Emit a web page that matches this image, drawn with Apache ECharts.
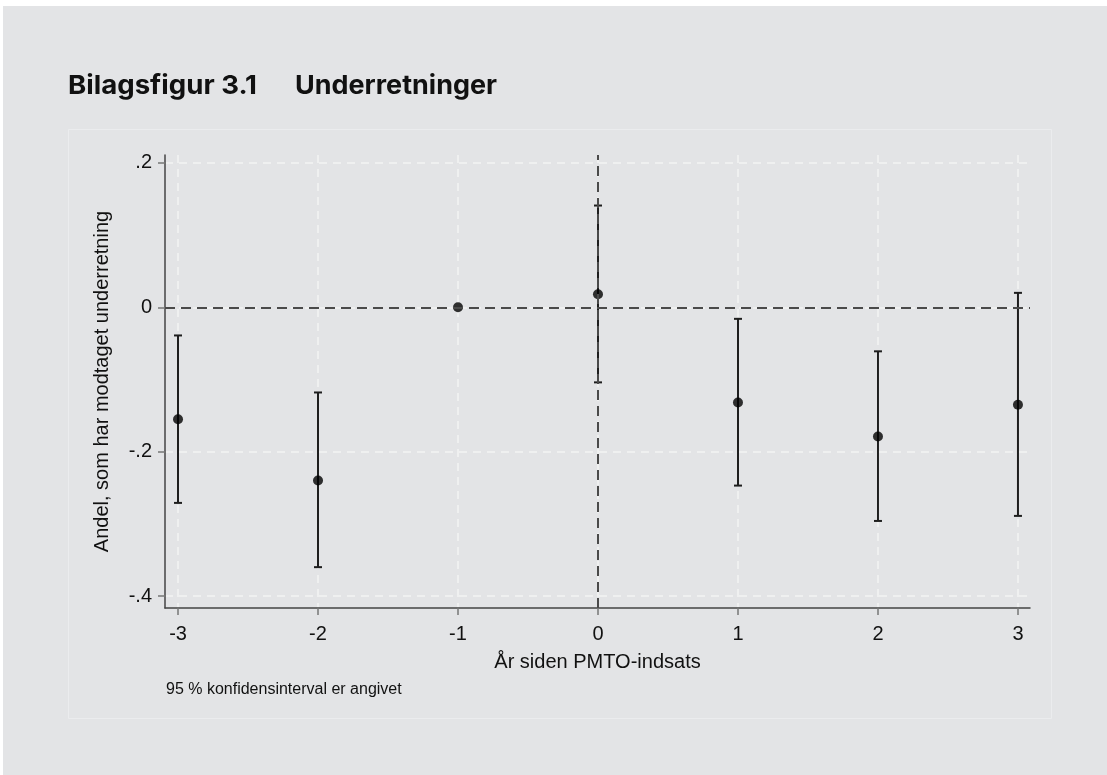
<!DOCTYPE html>
<html>
<head>
<meta charset="utf-8">
<script src="https://cdn.jsdelivr.net/npm/echarts@6/dist/echarts.min.js"></script>
<style>
  html, body { margin: 0; padding: 0; background: #ffffff; }
  #chart { width: 1107px; height: 775px; }
</style>
</head>
<body>
<div id="chart"></div>
<script>
// Years relative to the PMTO intervention
const years = [-3, -2, -1, 0, 1, 2, 3];
// Estimated share with a notification (point estimates)
const estimates = [-0.155, -0.240, 0.000, 0.018, -0.132, -0.179, -0.135];
// 95 % confidence bounds (null where no interval is reported)
const ciLow  = [-0.271, -0.360, null, -0.104, -0.247, -0.296, -0.289];
const ciHigh = [-0.039, -0.118, null,  0.141, -0.016, -0.061,  0.020];
// Axis ticks and labels
const xTicks = [-3, -2, -1, 0, 1, 2, 3];
const yTicks = [-0.4, -0.2, 0, 0.2];
const yTickLabels = ['-.4', '-.2', '0', '.2'];

const pointData = years.map((x, i) => [x, estimates[i]]);
const ciData = years
  .map((x, i) => [x, ciLow[i], ciHigh[i]])
  .filter(d => d[1] !== null && d[2] !== null);

const axisFont = 'Liberation Sans, Arial, sans-serif';
const titleFont = 'bold 26px Inter, Roboto, sans-serif';
const gridLine = { show: true, lineStyle: { color: '#f3f3f4', width: 1.5, type: [8, 6] } };

// Heading parts are fitted to their set widths
const measureCtx = document.createElement('canvas').getContext('2d');
function widthScale(text, font, target) {
  measureCtx.font = font;
  return target / measureCtx.measureText(text).width;
}
const headA = 'Bilagsfigur 3.1';
const headB = 'Underretninger';

const chart = echarts.init(document.getElementById('chart'), null, { renderer: 'canvas' });

function render() {
  chart.setOption({
    backgroundColor: '#e3e4e6',
    animation: false,
    graphic: [
      { type: 'rect', shape: { x: 0, y: 0, width: 1107, height: 6 }, style: { fill: '#ffffff' }, z: -10 },
      { type: 'rect', shape: { x: 0, y: 0, width: 3, height: 775 }, style: { fill: '#ffffff' }, z: -10 },
      { type: 'rect', shape: { x: 68.5, y: 129.5, width: 983, height: 589 },
        style: { fill: 'transparent', stroke: '#ebecee', lineWidth: 1 }, z: -9 },
      { type: 'text', x: 68, y: 73, scaleX: widthScale(headA, titleFont, 189),
        style: { text: headA, font: titleFont, fill: '#111111' } },
      { type: 'text', x: 295, y: 73, scaleX: widthScale(headB, titleFont, 202),
        style: { text: headB, font: titleFont, fill: '#111111' } },
      { type: 'text', left: 166, top: 682,
        style: { text: '95 % konfidensinterval er angivet', font: '16px ' + axisFont, fill: '#111111' } }
    ],
    grid: { left: 165, right: 77, top: 155, bottom: 167, containLabel: false },
    xAxis: {
      type: 'value',
      min: -3.093,
      max: 3.086,
      name: 'År siden PMTO-indsats',
      nameLocation: 'middle',
      nameGap: 44,
      nameTextStyle: { fontFamily: axisFont, fontSize: 20, color: '#111111' },
      axisLine: { show: true, onZero: false, lineStyle: { color: '#444444', width: 1.5 } },
      axisTick: { show: true, length: 7, customValues: xTicks, lineStyle: { color: '#777777', width: 1.5 } },
      axisLabel: { customValues: xTicks, margin: 16, fontFamily: axisFont, fontSize: 20, color: '#111111',
        formatter: v => String(v) },
      splitLine: gridLine
    },
    yAxis: {
      type: 'value',
      min: -0.4166,
      max: 0.211,
      name: 'Andel, som har modtaget underretning',
      nameLocation: 'middle',
      nameGap: 53,
      nameTextStyle: { fontFamily: axisFont, fontSize: 20, color: '#111111' },
      axisLine: { show: true, onZero: false, lineStyle: { color: '#444444', width: 1.5 } },
      axisTick: { show: true, length: 7, customValues: yTicks, lineStyle: { color: '#777777', width: 1.5 } },
      axisLabel: { customValues: yTicks, margin: 13, fontFamily: axisFont, fontSize: 20, color: '#111111',
        formatter: v => yTickLabels[yTicks.findIndex(t => Math.abs(t - v) < 1e-9)] },
      splitLine: gridLine
    },
    series: [
      {
        type: 'line',
        data: [],
        silent: true,
        markLine: {
          symbol: 'none',
          silent: true,
          label: { show: false },
          lineStyle: { color: '#4a4a4a', width: 2, type: [10, 6] },
          data: [{ xAxis: 0 }, { yAxis: 0 }]
        },
        z: 2
      },
      {
        type: 'custom',
        data: ciData,
        encode: { x: 0, y: [1, 2] },
        renderItem: (params, api) => {
          const x = api.value(0);
          const lo = api.coord([x, api.value(1)]);
          const hi = api.coord([x, api.value(2)]);
          const cap = 4;
          const style = { stroke: '#1e1e1e', lineWidth: 2 };
          return {
            type: 'group',
            children: [
              { type: 'line', shape: { x1: lo[0], y1: lo[1], x2: hi[0], y2: hi[1] }, style },
              { type: 'line', shape: { x1: lo[0] - cap, y1: lo[1], x2: lo[0] + cap, y2: lo[1] }, style },
              { type: 'line', shape: { x1: hi[0] - cap, y1: hi[1], x2: hi[0] + cap, y2: hi[1] }, style }
            ]
          };
        },
        z: 3
      },
      {
        type: 'scatter',
        data: pointData,
        symbol: 'circle',
        symbolSize: 10,
        itemStyle: { color: '#000000' },
        z: 4
      }
    ]
  });
}

if (document.fonts && document.fonts.load) {
  document.fonts.load(titleFont).then(render, render);
} else {
  render();
}
</script>
</body>
</html>
